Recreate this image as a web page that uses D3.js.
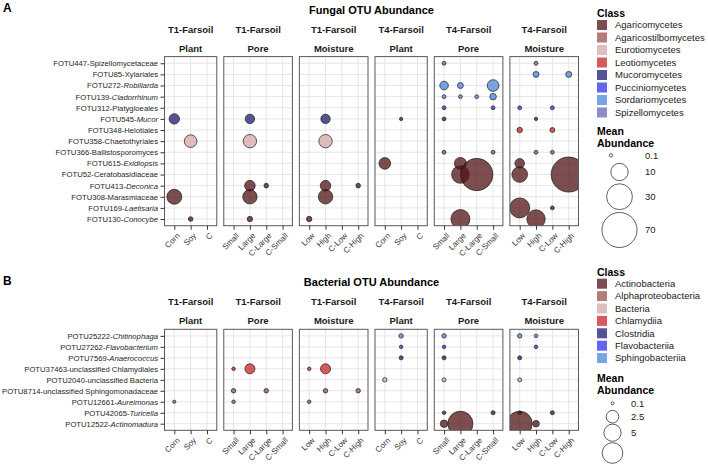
<!DOCTYPE html>
<html>
<head>
<meta charset="utf-8">
<script src="https://cdn.jsdelivr.net/npm/d3@7/dist/d3.min.js"></script>
<style>
html,body{margin:0;padding:0;background:#fff;}
svg{display:block;}
</style>
</head>
<body>
<svg id="chart" width="708" height="468"></svg>
<script>
// ---------------- data ----------------
const panelTimes = ["T1-Farsoil","T1-Farsoil","T1-Farsoil","T4-Farsoil","T4-Farsoil","T4-Farsoil"];
const panelFactors = ["Plant","Pore","Moisture","Plant","Pore","Moisture"];
const plantLevels = ["Corn","Soy","C"];
const poreLevels = ["Small","Large","C-Large","C-Small"];
const moistureLevels = ["Low","High","C-Low","C-High"];

const fungalOTUs = [
  "FOTU447-Spizellomycetaceae","FOTU85-Xylariales","FOTU272-Robillarda","FOTU139-Cladorrhinum",
  "FOTU312-Platygloeales","FOTU545-Mucor","FOTU348-Helotiales","FOTU358-Chaetothyriales",
  "FOTU366-Ballistosporomyces","FOTU615-Exidiopsis","FOTU52-Ceratobasidiaceae","FOTU413-Deconica",
  "FOTU308-Marasmiaceae","FOTU169-Laetisaria","FOTU130-Conocybe"];
const fungalItalic = [false,false,true,true,false,true,false,false,false,true,false,true,false,true,true];
const fungalClasses = ["Agaricomycetes","Agaricostilbomycetes","Eurotiomycetes","Leotiomycetes",
  "Mucoromycetes","Pucciniomycetes","Sordariomycetes","Spizellomycetes"];
const fungalOTUClass = ["Spizellomycetes","Sordariomycetes","Sordariomycetes","Sordariomycetes",
  "Pucciniomycetes","Mucoromycetes","Leotiomycetes","Eurotiomycetes","Agaricostilbomycetes",
  "Agaricomycetes","Agaricomycetes","Agaricomycetes","Agaricomycetes","Agaricomycetes","Agaricomycetes"];
const fungalSizeBreaks = [0.1, 10, 30, 70];
const fungalSizeLabels = ["0.1","10","30","70"];
// [panel, otu index, level, mean abundance]
const fungalPoints = [
  [0,5,"Corn",2.4],[0,7,"Soy",4.1],[0,12,"Corn",6.6],[0,14,"Soy",0.25],
  [1,5,"Large",1.8],[1,7,"Large",4.8],[1,11,"Large",2.5],[1,11,"C-Large",0.25],[1,12,"Large",5.9],[1,14,"Large",0.38],
  [2,5,"High",1.8],[2,7,"High",4.8],[2,11,"High",2.5],[2,11,"C-High",0.25],[2,12,"High",5.9],[2,14,"Low",0.38],
  [3,5,"Soy",0.1],[3,9,"Corn",3.3],
  [4,0,"Small",0.15],[4,2,"Small",1.4],[4,2,"Large",0.5],[4,2,"C-Small",3.3],
  [4,3,"Small",0.15],[4,3,"Large",0.15],[4,3,"C-Large",0.15],[4,3,"C-Small",0.65],
  [4,4,"Small",0.15],[4,4,"C-Small",0.15],[4,5,"Small",0.15],
  [4,8,"Small",0.15],[4,8,"C-Small",0.15],[4,9,"Large",3.6],
  [4,10,"Large",10.3],[4,10,"C-Large",56],[4,14,"Large",12.8],
  [5,0,"High",0.15],[5,1,"High",0.5],[5,1,"C-High",0.5],[5,4,"Low",0.15],[5,4,"C-Low",0.15],
  [5,5,"High",0.1],[5,6,"Low",0.4],[5,6,"C-Low",0.3],[5,8,"High",0.15],[5,8,"C-Low",0.15],
  [5,9,"Low",1.9],[5,10,"Low",7.4],[5,10,"C-High",70],[5,13,"Low",14.7],[5,13,"C-Low",0.15],[5,14,"High",11.7]
];

const bacterialOTUs = [
  "POTU25222-Chitinophaga","POTU27262-Flavobacterium","POTU7569-Anaerococcus",
  "POTU37463-unclassified Chlamydiales","POTU2040-unclassified Bacteria",
  "POTU8714-unclassified Sphingomonadaceae","POTU12661-Aureimonas","POTU42065-Turicella",
  "POTU12522-Actinomadura"];
const bacterialItalic = [true,true,true,false,false,false,true,true,true];
const bacterialClasses = ["Actinobacteria","Alphaproteobacteria","Bacteria","Chlamydiia",
  "Clostridia","Flavobacteriia","Sphingobacteriia"];
const bacterialOTUClass = ["Sphingobacteriia","Flavobacteriia","Clostridia","Chlamydiia","Bacteria",
  "Alphaproteobacteria","Alphaproteobacteria","Actinobacteria","Actinobacteria"];
const bacterialSizeBreaks = [0.1, 2.5, 5, 7.5];
const bacterialSizeLabels = ["0.1","2.5","5",""];
const bacterialPoints = [
  [0,6,"Corn",0.12],
  [1,3,"Small",0.15],[1,3,"Large",1.5],[1,5,"Small",0.25],[1,5,"C-Large",0.25],[1,6,"Small",0.15],
  [2,3,"Low",0.15],[2,3,"High",1.5],[2,5,"High",0.25],[2,5,"C-High",0.25],[2,6,"Low",0.15],
  [3,0,"Soy",0.25],[3,1,"Soy",0.15],[3,2,"Soy",0.2],[3,4,"Corn",0.25],
  [4,0,"Small",0.25],[4,1,"Small",0.15],[4,2,"Small",0.2],[4,4,"Small",0.2],[4,7,"Small",0.15],
  [4,7,"C-Small",0.2],[4,8,"Small",0.8],[4,8,"Large",11.5],
  [5,0,"Low",0.25],[5,0,"High",0.15],[5,1,"High",0.15],[5,2,"Low",0.2],[5,4,"Low",0.2],
  [5,7,"Low",0.15],[5,7,"C-Low",0.2],[5,8,"Low",11.5],[5,8,"High",0.6]
];

// palette (drawn with fill-opacity)
const fungalPalette = ["#521315","#9b5252","#d7a8a8","#ca232a","#1c1c73","#3030eb","#4b87d7","#6666b6"];
const bacterialPalette = ["#521315","#9b5252","#d7a8a8","#ca232a","#1c1c73","#3030eb","#4b87d7"];

// ---------------- drawing ----------------
const FONT = '"Liberation Sans", Arial, Helvetica, sans-serif';
const FILL_OP = 0.75;
const svg = d3.select("#chart").style("font-family", FONT);

function levelsOf(i){
  const f = panelFactors[i];
  return f === "Plant" ? plantLevels : (f === "Pore" ? poreLevels : moistureLevels);
}
const plotLeft = 164.5, plotRight = 578.5, panelGap = 7;
const counts = panelFactors.map((f,i) => levelsOf(i).length);
const unit = (plotRight - plotLeft - panelGap*(counts.length-1)) / d3.sum(counts, n => n + 0.2);
const panelX = [];
{ let x = plotLeft; counts.forEach(n => { const w = unit*(n+0.2); panelX.push([x, x+w]); x += w + panelGap; }); }

function labelWithItalic(sel, name, ital){
  const k = name.indexOf("-");
  sel.text(null);
  sel.append("tspan").text(name.slice(0, k+1));
  sel.append("tspan").attr("font-style", ital ? "italic" : "normal").text(name.slice(k+1));
}

function drawSection(s){
  const g = svg.append("g");
  g.append("text").attr("x", 3).attr("y", s.letterY).attr("font-size", 12).attr("font-weight", "bold").text(s.letter);
  g.append("text").attr("x", (plotLeft+plotRight)/2).attr("y", s.titleY).attr("text-anchor","middle")
    .attr("font-size", 11).attr("font-weight","bold").attr("fill","#000").text(s.title);

  const y = d3.scalePoint().domain(s.otus).range([s.top, s.bottom]).padding(0.6);
  const color = d3.scaleOrdinal().domain(s.classes).range(s.palette);

  panelX.forEach(([x0, x1], i) => {
    const lv = levelsOf(i);
    const x = d3.scalePoint().domain(lv).range([x0, x1]).padding(0.6);
    const cxm = (x0 + x1)/2;
    g.append("text").attr("x", cxm).attr("y", s.strip1Y).attr("text-anchor","middle")
      .attr("font-size", 9.5).attr("font-weight","bold").attr("fill","#1a1a1a").text(panelTimes[i]);
    g.append("text").attr("x", cxm).attr("y", s.strip2Y).attr("text-anchor","middle")
      .attr("font-size", 9.5).attr("font-weight","bold").attr("fill","#1a1a1a").text(panelFactors[i]);

    const clipId = `clip-${s.letter}-${i}`;
    g.append("clipPath").attr("id", clipId).append("rect")
      .attr("x", x0).attr("y", s.top).attr("width", x1 - x0).attr("height", s.bottom - s.top);
    const pg = g.append("g").attr("clip-path", `url(#${clipId})`);
    pg.append("rect").attr("x", x0).attr("y", s.top).attr("width", x1-x0).attr("height", s.bottom-s.top).attr("fill","#fff");
    pg.selectAll("line.h").data(s.otus).join("line")
      .attr("x1", x0).attr("x2", x1).attr("y1", d => y(d)).attr("y2", d => y(d))
      .attr("stroke", "#e6e6e6").attr("stroke-width", 1);
    pg.selectAll("line.v").data(lv).join("line")
      .attr("y1", s.top).attr("y2", s.bottom).attr("x1", d => x(d)).attr("x2", d => x(d))
      .attr("stroke", "#e6e6e6").attr("stroke-width", 1);
    pg.selectAll("circle").data(s.points.filter(p => p[0] === i)).join("circle")
      .attr("cx", d => x(d[2])).attr("cy", d => y(s.otus[d[1]]))
      .attr("r", d => s.r(d[3]))
      .attr("fill", d => color(s.otuClass[d[1]])).attr("fill-opacity", FILL_OP)
      .attr("stroke", "#1a1a1a").attr("stroke-width", 0.7);
    g.append("rect").attr("x", x0).attr("y", s.top).attr("width", x1-x0).attr("height", s.bottom-s.top)
      .attr("fill","none").attr("stroke","#595959").attr("stroke-width",1);

    const ax = g.append("g").attr("transform", `translate(0,${s.bottom})`)
      .call(d3.axisBottom(x).tickSize(4).tickSizeOuter(0));
    ax.select(".domain").remove();
    ax.attr("font-size", null).attr("font-family", null);
    ax.selectAll(".tick line").attr("stroke", "#333");
    ax.selectAll(".tick text").attr("y", 0).attr("dy", "0.71em").attr("text-anchor", "end")
      .attr("transform", "translate(1.5,6.5) rotate(-45)").attr("font-size", 8).attr("fill", "#333");

    if (i === 0){
      const ay = g.append("g").attr("transform", `translate(${x0},0)`)
        .call(d3.axisLeft(y).tickSize(4));
      ay.select(".domain").remove();
      ay.attr("font-size", null).attr("font-family", null);
      ay.selectAll(".tick line").attr("stroke", "#333");
      ay.selectAll(".tick text").attr("x", -6.5).attr("font-size", 7.7).attr("fill", "#262626")
        .each(function(d){ const idx = s.otus.indexOf(d); labelWithItalic(d3.select(this), d, s.italic[idx]); });
    }
  });

  // legend
  const lx = 597;
  const lg = svg.append("g");
  lg.append("text").attr("x", lx).attr("y", s.legTitleY).attr("font-size", 10.5).attr("font-weight","bold").text("Class");
  s.classes.forEach((c, k) => {
    const cy = s.legItem0 + k*s.legStep;
    lg.append("rect").attr("x", lx).attr("y", cy-5).attr("width", 10).attr("height", 10)
      .attr("fill", color(c)).attr("fill-opacity", FILL_OP);
    lg.append("text").attr("x", 615).attr("y", cy).attr("dy", "0.35em").attr("font-size", 9.5).attr("fill","#1a1a1a").text(c);
  });
  lg.append("text").attr("x", lx).attr("y", s.meanY).attr("font-size", 10.5).attr("font-weight","bold").text("Mean");
  lg.append("text").attr("x", lx).attr("y", s.meanY + 12.3).attr("font-size", 10.5).attr("font-weight","bold").text("Abundance");
  s.sizeBreaks.forEach((v, k) => {
    lg.append("circle").attr("cx", s.sizeCX[k]).attr("cy", s.sizeY[k]).attr("r", s.r(v))
      .attr("fill", "#fff").attr("stroke", "#1a1a1a").attr("stroke-width", 0.7);
    lg.append("text").attr("x", s.sizeTX).attr("y", s.sizeY[k]).attr("dy","0.35em").attr("font-size", 9.5)
      .attr("fill","#1a1a1a").text(s.sizeLabels[k]);
  });
}

const fungalR = d3.scalePow().exponent(0.36).domain([0, 10]).range([0, 8.7]);
const bacterialR = d3.scalePow().exponent(0.45).domain([0, 2.5]).range([0, 6.3]);

drawSection({
  letter: "A", letterY: 12, title: "Fungal OTU Abundance", titleY: 13.5,
  strip1Y: 32.5, strip2Y: 51.5, top: 56.6, bottom: 225.7,
  otus: fungalOTUs, italic: fungalItalic, otuClass: fungalOTUClass,
  classes: fungalClasses, palette: fungalPalette, points: fungalPoints, r: fungalR,
  legTitleY: 17, legItem0: 25, legStep: 12.5, meanY: 135,
  sizeBreaks: fungalSizeBreaks, sizeLabels: fungalSizeLabels,
  sizeCX: [611, 619.5, 619.5, 619.5], sizeY: [155.3, 172, 196.7, 230], sizeTX: 645
});
drawSection({
  letter: "B", letterY: 285, title: "Bacterial OTU Abundance", titleY: 285.5,
  strip1Y: 305, strip2Y: 324, top: 329.3, bottom: 430.3,
  otus: bacterialOTUs, italic: bacterialItalic, otuClass: bacterialOTUClass,
  classes: bacterialClasses, palette: bacterialPalette, points: bacterialPoints, r: bacterialR,
  legTitleY: 275.5, legItem0: 283.7, legStep: 12.4, meanY: 381.5,
  sizeBreaks: bacterialSizeBreaks, sizeLabels: bacterialSizeLabels,
  sizeCX: [612.5, 612.5, 612.5, 612.5], sizeY: [403.3, 416.7, 432.7, 453], sizeTX: 631
});
</script>
</body>
</html>
